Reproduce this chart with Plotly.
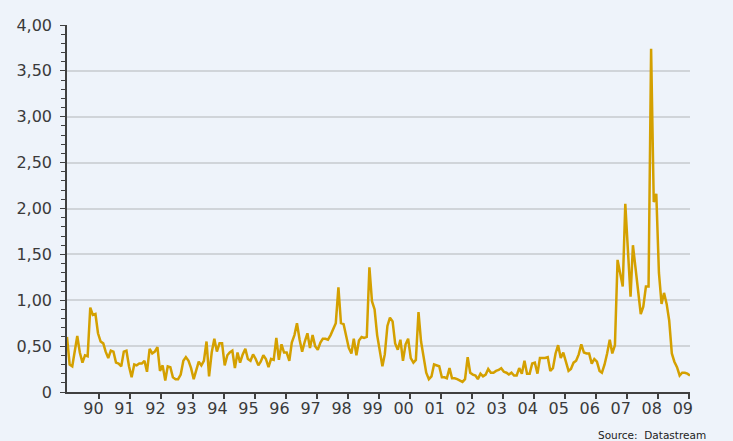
import pandas as pd
import plotly.graph_objects as go

# Monthly values (starting Dec 1988 / Jan 1989)
values = [
    0.60, 0.30, 0.28, 0.45, 0.61, 0.43, 0.32, 0.40, 0.39, 0.92,
    0.84, 0.85, 0.64, 0.55, 0.53, 0.44, 0.37, 0.45, 0.44, 0.32,
    0.31, 0.28, 0.44, 0.45, 0.28, 0.16, 0.30, 0.29, 0.31, 0.31,
    0.34, 0.22, 0.47, 0.42, 0.44, 0.49, 0.23, 0.29, 0.125, 0.28,
    0.27, 0.16, 0.14, 0.14, 0.19, 0.34, 0.38, 0.34, 0.26, 0.14,
    0.23, 0.33, 0.29, 0.34, 0.55, 0.17, 0.43, 0.58, 0.44, 0.53,
    0.53, 0.29, 0.40, 0.43, 0.45, 0.26, 0.43, 0.32, 0.41, 0.47,
    0.36, 0.34, 0.41, 0.36, 0.29, 0.33, 0.40, 0.36, 0.27, 0.36,
    0.35, 0.59, 0.35, 0.52, 0.43, 0.43, 0.34, 0.54, 0.62, 0.75,
    0.57, 0.44, 0.55, 0.64, 0.48, 0.62, 0.50, 0.46, 0.54, 0.58,
    0.58, 0.57, 0.62, 0.68, 0.75, 1.14, 0.75, 0.74, 0.60, 0.48,
    0.42, 0.58, 0.40, 0.56, 0.60, 0.59, 0.60, 1.36, 0.99, 0.90,
    0.62, 0.46, 0.28, 0.41, 0.72, 0.81, 0.77, 0.53, 0.46, 0.57,
    0.34, 0.52, 0.58, 0.37, 0.32, 0.35, 0.87, 0.55, 0.36, 0.21,
    0.14, 0.17, 0.30, 0.29, 0.28, 0.16, 0.16, 0.15, 0.26, 0.15,
    0.15, 0.14, 0.12, 0.11, 0.14, 0.38, 0.21, 0.19, 0.18, 0.14,
    0.20, 0.17, 0.19, 0.25, 0.21, 0.21, 0.23, 0.24, 0.26, 0.22,
    0.21, 0.19, 0.21, 0.18, 0.18, 0.26, 0.20, 0.34, 0.20, 0.20,
    0.31, 0.32, 0.20, 0.37, 0.37, 0.37, 0.38, 0.23, 0.26, 0.42,
    0.51, 0.37, 0.43, 0.33, 0.23, 0.25, 0.32, 0.34, 0.41, 0.52,
    0.43, 0.42, 0.42, 0.31, 0.36, 0.33, 0.23, 0.21, 0.30, 0.42,
    0.57, 0.42, 0.51, 1.44, 1.30, 1.15, 2.05, 1.55, 1.04, 1.60,
    1.33, 1.07, 0.85, 0.93, 1.15, 1.15, 3.74, 2.07, 2.16, 1.30,
    0.96, 1.08, 0.96, 0.78, 0.42, 0.33, 0.27, 0.18, 0.21, 0.21,
    0.20, 0.18,
]
dates = pd.date_range("1988-12-01", periods=len(values), freq="MS") + pd.Timedelta(days=14)

year_ticks = [f"{y}-01-01" for y in range(1990, 2010)]
year_labels = [str(y)[2:] for y in range(1990, 2010)]
y_ticks = [0, 0.5, 1.0, 1.5, 2.0, 2.5, 3.0, 3.5, 4.0]
y_labels = ["0", "0,50", "1,00", "1,50", "2,00", "2,50", "3,00", "3,50", "4,00"]

bg = "#EEF3FA"
txt = "#3a3a3a"

fig = go.Figure()
fig.add_trace(go.Scatter(x=dates, y=values, mode="lines",
                         line=dict(color="#D4A000", width=2.5), hoverinfo="skip"))

fig.update_layout(
    width=733, height=441,
    margin=dict(l=67, r=43, t=25, b=49, autoexpand=False),
    paper_bgcolor=bg, plot_bgcolor=bg,
    showlegend=False,
    font=dict(family="DejaVu Sans", size=16, color=txt),
)
fig.update_xaxes(
    type="date", automargin=False,
    range=[dates[0], dates[-1]],
    tickvals=year_ticks, ticktext=year_labels,
    ticks="outside", ticklen=5, tickwidth=1.5, tickcolor="#404040",
    ticklabelshift=-6, ticklabelstandoff=-4,
    showline=True, linecolor="#404040", linewidth=1.5,
    showgrid=False, zeroline=False,
)
fig.update_yaxes(
    range=[0, 4.0], automargin=False,
    tickvals=y_ticks, ticktext=y_labels,
    ticks="outside", ticklen=5, tickwidth=1.2, tickcolor="#404040",
    ticklabelstandoff=5,
    minor=dict(dtick=0.1, ticks="outside", ticklen=4, tickcolor="#404040", tickwidth=1, showgrid=False),
    showline=True, linecolor="#404040", linewidth=1.5,
    showgrid=True, gridcolor="#d0d4d9", gridwidth=1.5,
    zeroline=False,
)
fig.add_annotation(
    text="Source:\u00a0 Datastream", xref="paper", yref="paper",
    x=1.029, y=-0.116, xanchor="right", yanchor="middle",
    showarrow=False, font=dict(family="DejaVu Sans", size=10.5, color="#222222"),
)
fig.write_html(
    "out.html",
    config={"displayModeBar": False},
    post_script="document.body.style.margin='0';document.body.style.background='#EEF3FA';",
)
